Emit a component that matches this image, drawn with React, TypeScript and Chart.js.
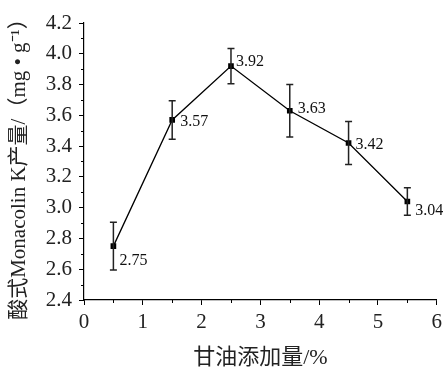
import { useEffect, useRef } from 'react';
import { Chart, registerables } from 'chart.js';
Chart.register(...registerables);

const glycerolPct = [0.5, 1.5, 2.5, 3.5, 4.5, 5.5];
const yieldValues = [2.75, 3.57, 3.92, 3.63, 3.42, 3.04];
const errorValues = [0.155, 0.125, 0.115, 0.17, 0.14, 0.09];
const valueLabels = ['2.75', '3.57', '3.92', '3.63', '3.42', '3.04'];
const xTitle = '甘油添加量/%';
const yTitle = '酸式Monacolin K产量/（mg • g⁻¹）';

const labelOffsets = [[6, 15], [8, 2], [5, -4], [8, -2], [7, 2], [8, 9]];

const FONT = "'Liberation Serif', 'Times New Roman', 'Noto Sans CJK SC', serif";

const decorPlugin = {
  id: 'decor',
  afterDatasetsDraw(chart: any) {
    const ctx = chart.ctx;
    const xs = chart.scales.x;
    const ys = chart.scales.y;
    const area = chart.chartArea;
    ctx.save();
    // error bars
    ctx.strokeStyle = '#222';
    ctx.lineWidth = 1.5;
    glycerolPct.forEach((xv, i) => {
      const px = xs.getPixelForValue(xv);
      const top = ys.getPixelForValue(yieldValues[i] + errorValues[i]);
      const bot = ys.getPixelForValue(yieldValues[i] - errorValues[i]);
      ctx.beginPath();
      ctx.moveTo(px, top);
      ctx.lineTo(px, bot);
      ctx.moveTo(px - 3.5, top);
      ctx.lineTo(px + 3.5, top);
      ctx.moveTo(px - 3.5, bot);
      ctx.lineTo(px + 3.5, bot);
      ctx.stroke();
    });
    // value labels
    ctx.fillStyle = '#111';
    ctx.font = `16px ${FONT}`;
    ctx.textAlign = 'left';
    ctx.textBaseline = 'middle';
    glycerolPct.forEach((xv, i) => {
      const px = xs.getPixelForValue(xv);
      const py = ys.getPixelForValue(yieldValues[i]);
      ctx.fillText(valueLabels[i], px + labelOffsets[i][0], py + labelOffsets[i][1]);
    });
    // minor ticks
    ctx.strokeStyle = '#000';
    ctx.lineWidth = 1;
    for (let v = 0.5; v < 6; v += 1) {
      const px = Math.round(xs.getPixelForValue(v)) + 0.5;
      ctx.beginPath();
      ctx.moveTo(px, area.bottom);
      ctx.lineTo(px, area.bottom + 3);
      ctx.stroke();
    }
    for (let v = 2.5; v < 4.2; v += 0.2) {
      const py = Math.round(ys.getPixelForValue(v)) + 0.5;
      ctx.beginPath();
      ctx.moveTo(area.left, py);
      ctx.lineTo(area.left - 3, py);
      ctx.stroke();
    }
    // axis titles
    ctx.fillStyle = '#222';
    ctx.font = `22px ${FONT}`;
    ctx.textAlign = 'center';
    ctx.textBaseline = 'middle';
    ctx.fillText(xTitle, (area.left + area.right) / 2, 358);
    ctx.save();
    ctx.font = `21px ${FONT}`;
    ctx.translate(19, 164);
    ctx.rotate(-Math.PI / 2);
    ctx.fillText(yTitle, 0, 0);
    ctx.restore();
    ctx.restore();
  },
};

export default function App() {
  const ref = useRef<HTMLCanvasElement | null>(null);
  useEffect(() => {
    document.body.style.margin = '0';
    const canvas = ref.current!;
    const chart = new Chart(canvas, {
      type: 'line',
      data: {
        datasets: [
          {
            data: glycerolPct.map((x, i) => ({ x, y: yieldValues[i] })),
            borderColor: '#000',
            borderWidth: 1.3,
            backgroundColor: '#000',
            pointStyle: 'rect',
            pointRadius: 4,
            pointBackgroundColor: '#000',
            pointBorderWidth: 0,
            tension: 0,
          },
        ],
      },
      options: {
        animation: false,
        responsive: false,
        devicePixelRatio: 1,
        layout: { padding: { left: 0, top: 23, right: 8, bottom: 0 } },
        plugins: { legend: { display: false }, tooltip: { enabled: false } },
        scales: {
          x: {
            type: 'linear',
            min: 0,
            max: 6,
            afterFit: (s: any) => { s.height = 70; },
            ticks: {
              stepSize: 1,
              color: '#222',
              padding: 5,
              font: { family: FONT, size: 21 },
              maxRotation: 0,
            },
            grid: { drawOnChartArea: false, tickLength: 5, color: '#000', lineWidth: 1 },
            border: { color: '#000', width: 1.2 },
          },
          y: {
            type: 'linear',
            min: 2.4,
            max: 4.2,
            afterFit: (s: any) => { s.width = 84; },
            ticks: {
              stepSize: 0.2,
              color: '#222',
              padding: 7,
              font: { family: FONT, size: 21 },
              callback: (v: any) => Number(v).toFixed(1),
            },
            grid: { drawOnChartArea: false, tickLength: 5, color: '#000', lineWidth: 1 },
            border: { color: '#000', width: 1.2 },
          },
        },
      },
      plugins: [decorPlugin],
    });
    return () => chart.destroy();
  }, []);
  return (
    <div style={{ width: 447, height: 370, position: 'relative' }}>
      <canvas ref={ref} width={447} height={370} style={{ width: 447, height: 370 }} />
    </div>
  );
}
